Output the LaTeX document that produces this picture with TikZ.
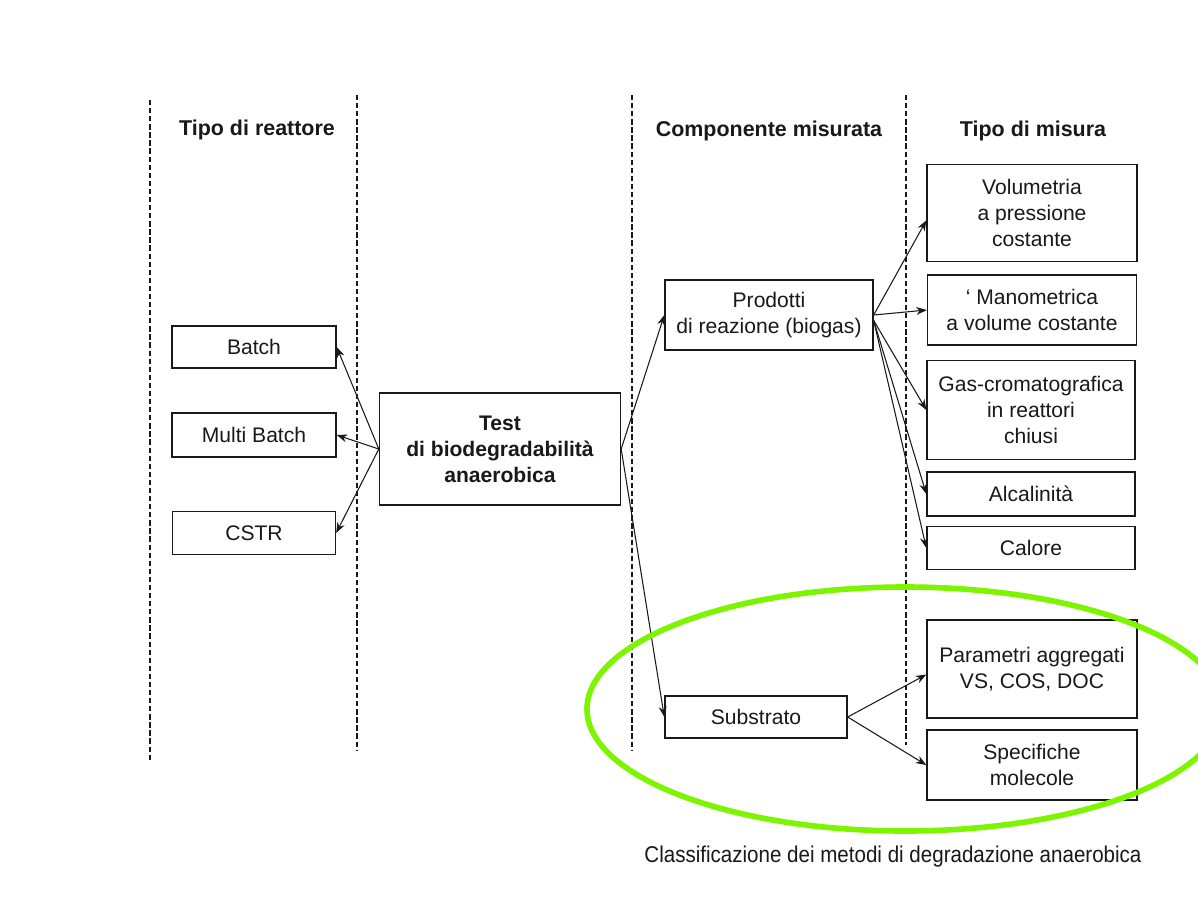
\documentclass[tikz,border=0pt]{standalone}
\usepackage{fontspec}
\setmainfont{Liberation Sans}
\newfontfamily\captionfont[FakeStretch=0.9]{Liberation Sans}
\usepackage{tikz}
\usetikzlibrary{shapes.geometric, arrows, arrows.meta, positioning}
\definecolor{ink}{RGB}{25, 25, 25}
\definecolor{marker}{RGB}{125, 245, 0}

\begin{document}
\begin{tikzpicture}[x=0.02cm, y=-0.02cm, every node/.style={text=ink},
    box/.style={draw=ink, rectangle, line width=0.8pt, align=center, font=\fontsize{12}{14.8}\selectfont, inner sep=2pt},
    head/.style={font=\fontsize{12.2}{14}\selectfont\bfseries},
    sep/.style={ink, line width=0.6pt, dash pattern=on 3pt off 1.6pt},
    link/.style={-{Stealth[length=6pt, width=4.5pt]}, ink, line width=0.6pt}]
        \clip (0,0) rectangle (1198,897);
        \fill[white] (0,0) rectangle (1198,897);

        % column separators and headings
        \draw[sep] (150,100) -- (150,760);
        \draw[sep] (357,95) -- (357,750);
        \draw[sep] (632,95) -- (632,750);
        \draw[sep] (906,95) -- (906,745);
        \node[head] (h1) at (257,130) {Tipo di reattore};
        \node[head] (h2) at (769,131) {Componente misurata};
        \node[head] (h3) at (1033,131) {Tipo di misura};

        % reactor types
        \node[box, minimum width=3.28cm, minimum height=0.84cm] (batch) at (254,347) {Batch};
        \node[box, minimum width=3.28cm, minimum height=0.88cm] (multi) at (254,435) {Multi Batch};
        \node[box, minimum width=3.26cm, minimum height=0.86cm] (cstr) at (254,533) {CSTR};

        % central test
        \node[box, font=\fontsize{12}{14.8}\selectfont\bfseries, minimum width=4.82cm, minimum height=2.24cm] (test) at (500,449) {Test\\di biodegradabilità\\anaerobica};

        % measured component
        \node[box, minimum width=4.16cm, minimum height=1.4cm] (prod) at (769,315) {Prodotti\\di reazione (biogas)};
        \node[box, minimum width=3.64cm, minimum height=0.84cm] (sub) at (756,717) {Substrato};

        % kind of measurement
        \node[box, minimum width=4.2cm, minimum height=1.94cm] (vol) at (1032,213) {Volumetria\\a pressione\\costante};
        \node[box, minimum width=4.18cm, minimum height=1.4cm] (mano) at (1032,310) {` Manometrica\\a volume costante};
        \node[box, minimum width=4.16cm, minimum height=1.98cm] (gas) at (1031,410) {Gas-cromatografica\\in reattori\\chiusi};
        \node[box, minimum width=4.16cm, minimum height=0.88cm] (alc) at (1031,494) {Alcalinità};
        \node[box, minimum width=4.16cm, minimum height=0.86cm] (cal) at (1031,548) {Calore};
        \node[box, minimum width=4.2cm, minimum height=1.96cm] (param) at (1032,669) {Parametri aggregati\\VS, COS, DOC};
        \node[box, minimum width=4.2cm, minimum height=1.4cm] (spec) at (1032,765) {Specifiche\\molecole};

        \draw[link] (test.west) -- (batch.east);
        \draw[link] (test.west) -- (multi.east);
        \draw[link] (test.west) -- (cstr.east);
        \draw[link] (test.east) -- (prod.west);
        \draw[link] (test.east) -- (sub.west);
        \draw[link] (prod.east) -- (vol.184);
        \draw[link] (prod.east) -- (mano.west);
        \draw[link] (prod.357) -- (gas.west);
        \draw[link] (prod.357) -- (alc.west);
        \draw[link] (prod.357) -- (cal.west);
        \draw[link] (sub.east) -- (param.183);
        \draw[link] (sub.east) -- (spec.west);

        % highlight
        \draw[marker, line width=3.2pt] (905,709) ellipse (318 and 122);

        \node[font=\captionfont\fontsize{13}{15}\selectfont] (cap) at (893,857) {Classificazione dei metodi di degradazione anaerobica};
    \end{tikzpicture}
\end{document}
